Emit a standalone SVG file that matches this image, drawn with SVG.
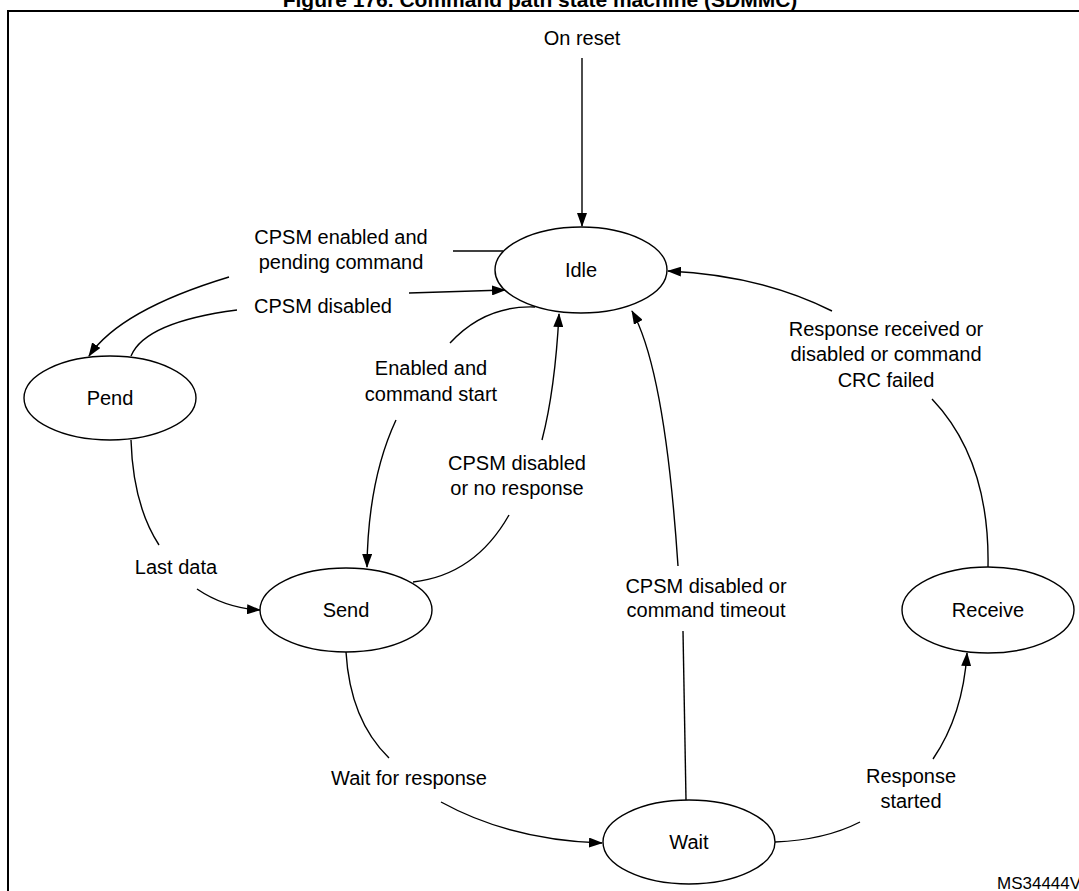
<svg xmlns="http://www.w3.org/2000/svg" width="1079" height="891" viewBox="0 0 1079 891">
<style>
.t{font-family:"Liberation Sans",Arial,sans-serif;font-size:20px;fill:#000;text-anchor:middle}
.n{fill:#fff;stroke:#000;stroke-width:1.4}
.c{fill:none;stroke:#000;stroke-width:1.4}
</style>
<defs><marker id="a" markerWidth="14" markerHeight="10" refX="13" refY="5" orient="auto" markerUnits="userSpaceOnUse"><path d="M0,0L14,5L0,10z" fill="#000"/></marker></defs>
<rect width="1079" height="891" fill="#fff"/>
<text x="540" y="7" class="t" style="font-weight:bold;font-size:21px">Figure 176. Command path state machine (SDMMC)</text>
<rect x="8" y="11" width="1080" height="890" fill="none" stroke="#000" stroke-width="2"/>
<g id="connectors">
<line class="c" x1="582" y1="58" x2="582" y2="226" marker-end="url(#a)"/>
<path class="c" d="M453,251 L503,251"/>
<path class="c" d="M229,277 Q120,310 89,356" marker-end="url(#a)"/>
<path class="c" d="M131,356 Q145,322 237,310"/>
<path class="c" d="M409,293 L505,290" marker-end="url(#a)"/>
<path class="c" d="M535,307 Q485,305 450,343"/>
<path class="c" d="M396,420 Q368,480 367,567" marker-end="url(#a)"/>
<path class="c" d="M413,582 Q475,575 509,515"/>
<path class="c" d="M542,440 Q555,390 559,314" marker-end="url(#a)"/>
<path class="c" d="M131,440 Q133,505 159,545"/>
<path class="c" d="M197,589 Q225,608 260,610" marker-end="url(#a)"/>
<path class="c" d="M346,652 Q350,720 389,758"/>
<path class="c" d="M441,802 Q510,840 602,843" marker-end="url(#a)"/>
<path class="c" d="M686,800 L683,631"/>
<path class="c" d="M678,566 Q665,370 632,311" marker-end="url(#a)"/>
<path class="c" d="M775,842 Q825,840 860,822"/>
<path class="c" d="M933,759 Q963,715 967,653" marker-end="url(#a)"/>
<path class="c" d="M988,567 Q990,460 932,399"/>
<path class="c" d="M832,311 Q760,275 668,271" marker-end="url(#a)"/>
</g>
<g id="labels">
<text class="t" x="582" y="45">On reset</text>
<text class="t" x="341" y="244">CPSM enabled and</text>
<text class="t" x="341" y="269">pending command</text>
<text class="t" x="323" y="313">CPSM disabled</text>
<text class="t" x="431" y="375">Enabled and</text>
<text class="t" x="431" y="401">command start</text>
<text class="t" x="517" y="470">CPSM disabled</text>
<text class="t" x="517" y="495">or no response</text>
<text class="t" x="176" y="574">Last data</text>
<text class="t" x="409" y="785">Wait for response</text>
<text class="t" x="706" y="593">CPSM disabled or</text>
<text class="t" x="706" y="617">command timeout</text>
<text class="t" x="911" y="783">Response</text>
<text class="t" x="911" y="808">started</text>
<text class="t" x="886" y="336">Response received or</text>
<text class="t" x="886" y="361">disabled or command</text>
<text class="t" x="886" y="387">CRC failed</text>
<text class="t" x="997" y="889" style="text-anchor:start;font-size:17px">MS34444V1</text>
</g>
<g id="idle"><ellipse class="n" cx="581" cy="270" rx="86" ry="43"/><text class="t" x="581" y="277">Idle</text></g>
<g id="pend"><ellipse class="n" cx="110" cy="398" rx="86" ry="42"/><text class="t" x="110" y="405">Pend</text></g>
<g id="send"><ellipse class="n" cx="346" cy="610" rx="86" ry="42"/><text class="t" x="346" y="617">Send</text></g>
<g id="wait"><ellipse class="n" cx="689" cy="842" rx="86" ry="42"/><text class="t" x="689" y="849">Wait</text></g>
<g id="receive"><ellipse class="n" cx="988" cy="610" rx="86" ry="43"/><text class="t" x="988" y="617">Receive</text></g>
</svg>
